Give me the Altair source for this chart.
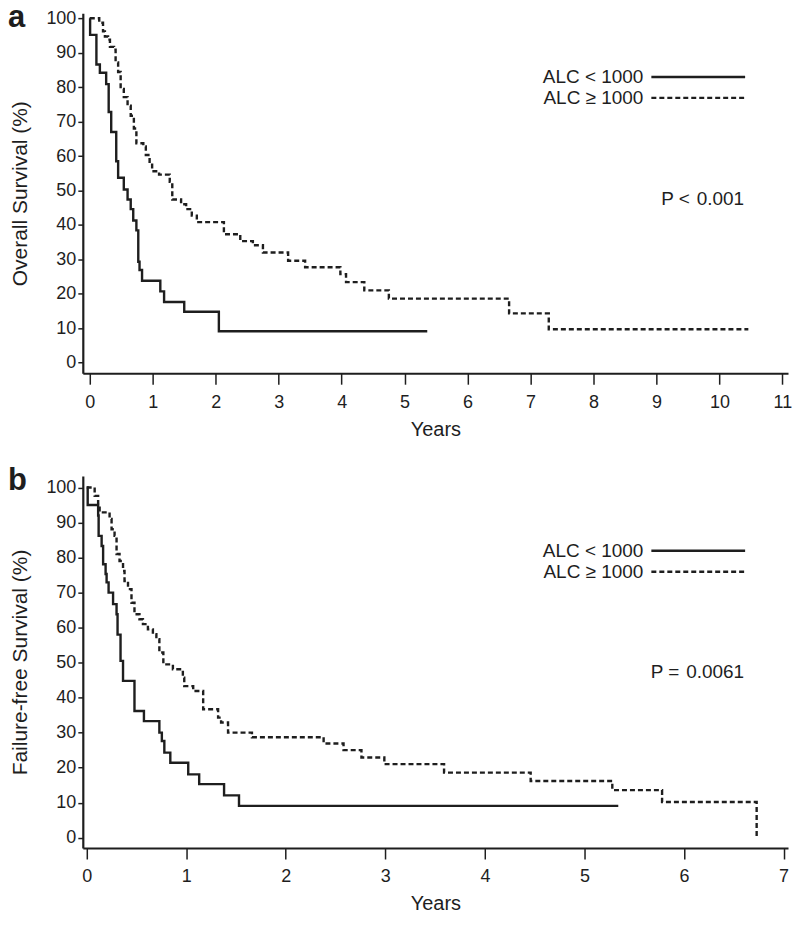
import altair as alt
import pandas as pd

# ---- data ----
os_low_t = [0, 0.005, 0.105, 0.16, 0.26, 0.30, 0.34, 0.42, 0.45, 0.54, 0.60, 0.65, 0.69, 0.74, 0.77, 0.79, 0.83, 1.12, 1.18, 1.50, 2.05, 5.36]
os_low_s = [100, 95.2, 86.6, 84.2, 80.9, 72.8, 67.0, 58.5, 53.7, 50.3, 47.4, 44.6, 41.3, 38.4, 29.3, 26.9, 23.8, 20.7, 17.6, 14.8, 9.1, 9.1]

os_high_t = [0, 0.15, 0.21, 0.24, 0.29, 0.32, 0.385, 0.41, 0.45, 0.49, 0.54, 0.60, 0.65, 0.70, 0.74, 0.85, 0.89, 0.95, 0.99, 1.10,
             1.27, 1.31, 1.45, 1.53, 1.62, 1.70, 2.13, 2.39, 2.59, 2.75, 3.15, 3.42, 3.98, 4.07, 4.36, 4.75, 6.66, 7.29, 10.46]
os_high_s = [100, 98.7, 96.2, 94.7, 93.8, 91.7, 90.9, 87.2, 84.4, 79.5, 77.1, 74.6, 71.7, 68.0, 63.7, 62.8, 60.3, 57.5, 55.6, 54.6,
             52.5, 47.4, 46.0, 44.6, 42.7, 40.8, 37.3, 35.3, 34.1, 32.0, 29.6, 27.7, 25.7, 23.4, 21.0, 18.6, 14.3, 9.7, 9.7]

ffs_low_t = [0, 0.01, 0.115, 0.12, 0.15, 0.165, 0.19, 0.20, 0.22, 0.265, 0.30, 0.31, 0.34, 0.365, 0.48, 0.575, 0.73, 0.755, 0.78, 0.84,
             1.02, 1.13, 1.38, 1.53, 5.34]
ffs_low_s = [100, 95.0, 92.0, 86.2, 83.3, 78.1, 75.3, 72.9, 70.0, 66.7, 63.8, 58.0, 50.5, 44.8, 36.2, 33.3, 30.0, 27.6, 24.3, 21.4,
             18.1, 15.3, 12.1, 9.1, 9.1]

ffs_high_t = [0, 0.08, 0.115, 0.13, 0.23, 0.25, 0.28, 0.30, 0.33, 0.365, 0.38, 0.415, 0.45, 0.48, 0.53, 0.565, 0.615, 0.665, 0.70, 0.73,
              0.77, 0.866, 0.966, 0.98, 1.07, 1.17, 1.32, 1.35, 1.42, 1.66, 2.38, 2.58, 2.76, 2.99, 3.59, 4.46, 5.28, 5.78, 6.73]
ffs_high_s = [100, 97.6, 95.2, 92.9, 91.0, 88.1, 86.2, 81.0, 79.0, 76.2, 73.3, 71.0, 67.1, 63.8, 62.4, 61.0, 59.5, 58.1, 56.7, 52.9,
              49.5, 48.1, 45.7, 43.3, 41.9, 36.7, 34.3, 32.9, 30.0, 28.7, 26.9, 25.0, 22.9, 21.0, 18.6, 16.2, 13.6, 10.2, 0]

groups = ["ALC < 1000", "ALC \u2265 1000"]
y_ticks = list(range(0, 101, 10))
os_x_ticks = list(range(0, 12))
ffs_x_ticks = list(range(0, 8))

INK = "#1e1e1e"
FONT = "Liberation Sans"
W = 707


def panel(low_t, low_s, high_t, high_s, xdom, ydom, xticks, ytitle, letter, ptext, H, pty, legy):
    d_low = pd.DataFrame({"t": low_t, "s": low_s, "g": groups[0]})
    d_high = pd.DataFrame({"t": high_t, "s": high_s, "g": groups[1]})
    xenc = alt.X("t:Q", scale=alt.Scale(domain=xdom, nice=False, zero=False),
                 axis=alt.Axis(values=xticks, title="Years", format="d", labelOverlap=False))
    yenc = alt.Y("s:Q", scale=alt.Scale(domain=ydom, nice=False, zero=False),
                 axis=alt.Axis(values=y_ticks, title=ytitle, titleX=-62, titleY=H / 2, format="d",
                               titleAngle=-90, titleAlign="center", titleBaseline="middle",
                               titleFontSize=21, labelOverlap=False, tickSize=5, labelPadding=2))
    solid = alt.Chart(d_low).mark_line(interpolate="step-after", color=INK, strokeWidth=2.4).encode(x=xenc, y=yenc)
    dashed = alt.Chart(d_high).mark_line(interpolate="step-after", color=INK, strokeWidth=2.4,
                                         strokeDash=[5, 3]).encode(x=xenc, y=yenc)
    one = pd.DataFrame({"k": [0]})
    leg_t1 = alt.Chart(one).mark_text(text=groups[0], align="right", baseline="middle", font=FONT,
                                      fontSize=19, color=INK).encode(x=alt.value(562), y=alt.value(legy))
    leg_t2 = alt.Chart(one).mark_text(text=groups[1], align="right", baseline="middle", font=FONT,
                                      fontSize=19, color=INK).encode(x=alt.value(562), y=alt.value(legy + 21))
    leg_l1 = alt.Chart(one).mark_rule(color=INK, strokeWidth=2.4).encode(
        x=alt.value(570), x2=alt.value(664), y=alt.value(legy))
    leg_l2 = alt.Chart(one).mark_rule(color=INK, strokeWidth=2.4, strokeDash=[5, 3]).encode(
        x=alt.value(570), x2=alt.value(664), y=alt.value(legy + 21))
    p_txt = alt.Chart(one).mark_text(text=ptext, align="right", baseline="middle", font=FONT,
                                     fontSize=19, color=INK).encode(x=alt.value(663), y=alt.value(pty))
    let = alt.Chart(one).mark_text(text=letter, align="left", baseline="alphabetic", font=FONT,
                                   fontSize=31, fontWeight="bold", color=INK).encode(x=alt.value(-75), y=alt.value(14))
    return alt.layer(solid, dashed, leg_l1, leg_l2, leg_t1, leg_t2, p_txt, let).properties(width=W, height=H)


top = panel(os_low_t, os_low_s, os_high_t, os_high_s, [-0.111, 11.09], [-3.07, 101.5], os_x_ticks,
            "Overall Survival (%)", "a", "P <\u200a 0.001", 361, 186, 64)
bottom = panel(ffs_low_t, ffs_low_s, ffs_high_t, ffs_high_s, [-0.039, 7.045], [-2.94, 103.3], ffs_x_ticks,
               "Failure-free Survival (%)", "b", "P =\u200a 0.0061", 373, 197, 75)

chart = alt.vconcat(top, bottom, spacing=26).properties(
    padding={"left": 0, "top": -7, "right": 0, "bottom": 0}
).configure(font=FONT).configure_view(stroke=None).configure_axis(
    grid=False, domainColor=INK, domainWidth=2.2, tickColor=INK, tickWidth=1.5,
    labelFont=FONT, titleFont=FONT, labelFontSize=18, titleFontSize=20, labelColor=INK, titleColor=INK,
    titleFontWeight="normal"
).configure_axisX(tickSize=11, labelPadding=9, titlePadding=8)

chart.save("out.html", embed_options={"renderer": "svg", "actions": False})
